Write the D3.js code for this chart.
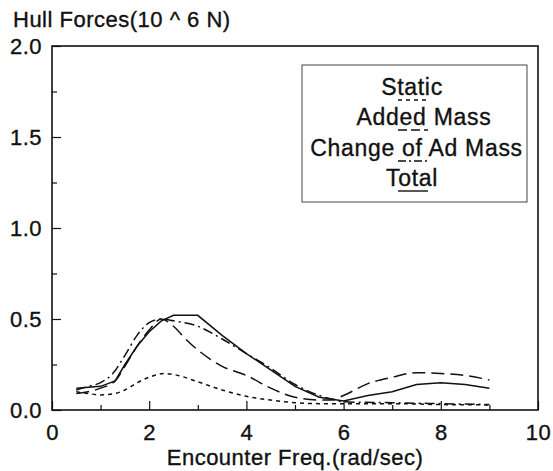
<!DOCTYPE html>
<html>
<head>
<meta charset="utf-8">
<script src="https://cdn.jsdelivr.net/npm/d3@7"></script>
<style>
  html, body { margin: 0; padding: 0; background: #fff; }
  svg { display: block; }
  text { font-family: "Liberation Sans", Arial, Helvetica, sans-serif; fill: #111; stroke: #111; stroke-width: 0.35px; }
</style>
</head>
<body>
<svg id="chart" width="553" height="471"></svg>
<script>
// ---- data ----
const staticX = [0.5, 0.75, 1.0, 1.25, 1.5, 1.75, 2.0, 2.3, 2.5, 3.0, 3.5, 4.0, 4.5, 5.0, 5.5, 6.0, 7.0, 8.0, 9.0];
const staticY = [0.10, 0.09, 0.083, 0.088, 0.11, 0.15, 0.18, 0.20, 0.195, 0.155, 0.11, 0.075, 0.055, 0.04, 0.035, 0.035, 0.035, 0.03, 0.028];

const addedX = [0.5, 1.0, 1.3, 1.5, 1.75, 2.0, 2.25, 2.5, 2.75, 3.0, 3.5, 4.0, 4.5, 5.0, 5.5, 5.75, 6.0, 6.5, 7.0, 7.5, 8.0, 8.5, 9.0];
const addedY = [0.09, 0.12, 0.16, 0.24, 0.35, 0.44, 0.50, 0.46, 0.39, 0.33, 0.24, 0.19, 0.12, 0.07, 0.055, 0.055, 0.08, 0.145, 0.18, 0.205, 0.20, 0.19, 0.165];

const changeX = [0.5, 0.75, 1.0, 1.25, 1.5, 1.75, 2.0, 2.25, 2.5, 3.0, 3.5, 4.0, 4.5, 5.0, 5.5, 5.75, 6.0, 7.0, 8.0, 9.0];
const changeY = [0.11, 0.13, 0.15, 0.20, 0.30, 0.41, 0.48, 0.50, 0.49, 0.46, 0.39, 0.31, 0.23, 0.14, 0.08, 0.06, 0.045, 0.04, 0.035, 0.03];

const totalX = [0.5, 1.0, 1.3, 1.5, 1.75, 2.0, 2.25, 2.5, 3.0, 3.5, 4.0, 4.5, 5.0, 5.5, 6.0, 6.5, 7.0, 7.5, 8.0, 8.5, 9.0];
const totalY = [0.12, 0.13, 0.16, 0.25, 0.35, 0.43, 0.49, 0.52, 0.52, 0.41, 0.31, 0.22, 0.13, 0.07, 0.05, 0.08, 0.10, 0.14, 0.15, 0.14, 0.12];

const seriesNames = ["Static", "Added Mass", "Change of Ad Mass", "Total"];
const xTicks = [0, 2, 4, 6, 8, 10];
const yTicks = [0.0, 0.5, 1.0, 1.5, 2.0];
const xMinorTicks = [1, 3, 5, 7, 9];
const yMinorTicks = [0.25, 0.75, 1.25, 1.75];
const titleText = "Hull Forces(10 ^ 6 N)";
const xLabelText = "Encounter Freq.(rad/sec)";

// ---- layout / style ----
const L = 52, R = 538, T = 46, B = 410;
const svg = d3.select("#chart");
const x = d3.scaleLinear().domain([0, 10]).range([L, R]);
const y = d3.scaleLinear().domain([0, 2]).range([B, T]);

const styles = [
  { dash: "4,4", legendDash: "4,4", curve: d3.curveMonotoneX },
  { dash: "13,6", legendDash: "9,4", curve: d3.curveMonotoneX },
  { dash: "10,4,2,4", legendDash: "8,3,2,3", curve: d3.curveMonotoneX },
  { dash: null, legendDash: null, curve: d3.curveLinear }
];
const seriesData = [
  d3.zip(staticX, staticY),
  d3.zip(addedX, addedY),
  d3.zip(changeX, changeY),
  d3.zip(totalX, totalY)
];

const fontSize = 22, ls = 0.5;

// axes (ticks inward)
const axisBottom = svg.append("g").attr("transform", `translate(0,${B})`)
  .call(d3.axisBottom(x).tickValues(xTicks).tickSize(-9).tickFormat(d3.format("d")).tickPadding(14));
svg.append("g").attr("transform", `translate(0,${B})`)
  .call(d3.axisBottom(x).tickValues(xMinorTicks).tickSize(-5).tickFormat(""));
const axisLeft = svg.append("g").attr("transform", `translate(${L},0)`)
  .call(d3.axisLeft(y).tickValues(yTicks).tickSize(-9).tickFormat(d3.format(".1f")).tickPadding(10));
svg.append("g").attr("transform", `translate(${L},0)`)
  .call(d3.axisLeft(y).tickValues(yMinorTicks).tickSize(-5).tickFormat(""));

svg.selectAll(".domain").remove();
svg.selectAll(".tick line").attr("stroke", "#111").attr("stroke-width", 1.2);
svg.selectAll(".tick text")
  .style("font-size", fontSize + "px")
  .style("letter-spacing", ls + "px")
  .style("font-family", "'Liberation Sans', Arial, sans-serif")
  .attr("fill", "#111");
axisBottom.selectAll(".tick text").attr("dy", "0.71em");

// frame
svg.append("rect").attr("x", L).attr("y", T).attr("width", R - L).attr("height", B - T)
  .attr("fill", "none").attr("stroke", "#111").attr("stroke-width", 1.6);

// series lines
seriesData.forEach((d, i) => {
  const line = d3.line().x(p => x(p[0])).y(p => y(p[1])).curve(styles[i].curve);
  svg.append("path").datum(d)
    .attr("d", line)
    .attr("fill", "none")
    .attr("stroke", "#111")
    .attr("stroke-width", 1.5)
    .attr("stroke-dasharray", styles[i].dash);
});

// title and x label
svg.append("text").attr("x", 13).attr("y", 27)
  .style("font-size", fontSize + "px").style("letter-spacing", ls + "px")
  .text(titleText);
svg.append("text").attr("x", (L + R) / 2).attr("y", 465).attr("text-anchor", "middle")
  .style("font-size", fontSize + "px").style("letter-spacing", ls + "px")
  .text(xLabelText);

// legend
const lg = { x: 302, y: 65, w: 225, h: 137 };
svg.append("rect").attr("x", lg.x).attr("y", lg.y).attr("width", lg.w).attr("height", lg.h)
  .attr("fill", "#fff").attr("stroke", "#444").attr("stroke-width", 1);
const legendCenters = [412, 424, 416.5, 412];
const legendBase = [95, 125, 156, 186];
seriesNames.forEach((name, i) => {
  svg.append("text").attr("x", legendCenters[i]).attr("y", legendBase[i])
    .attr("text-anchor", "middle")
    .style("font-size", "23px").style("letter-spacing", "0.7px")
    .text(name);
  svg.append("line")
    .attr("x1", 398).attr("x2", 428)
    .attr("y1", legendBase[i] + 5).attr("y2", legendBase[i] + 5)
    .attr("stroke", "#111").attr("stroke-width", 1.4)
    .attr("stroke-dasharray", styles[i].legendDash);
});
</script>
</body>
</html>
